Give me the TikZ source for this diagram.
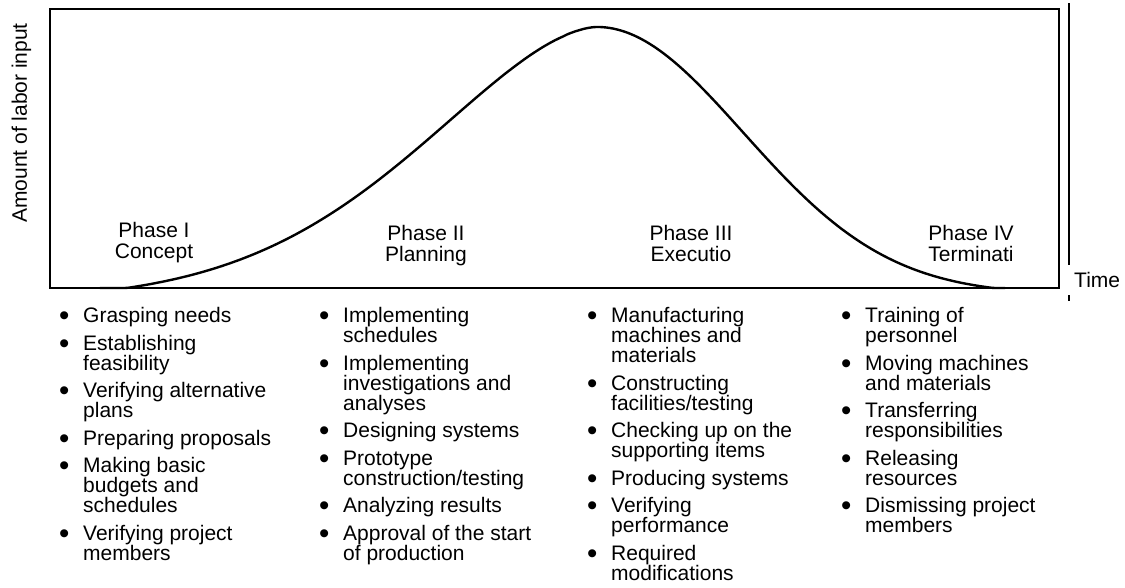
\documentclass[tikz,border=0pt]{standalone}
\usepackage{fontspec}
\setmainfont{Liberation Sans}
\newcommand{\bitem}{\makebox[24pt][l]{\raisebox{-3pt}{\scalebox{1.4}{\textbullet}}}}
\newcommand{\bcont}{\hspace*{24pt}}
\begin{document}
\begin{tikzpicture}[x=1pt,y=-1pt,
  txt/.style={inner sep=0pt, font=\fontsize{21}{20}\selectfont},
  listcol/.style={txt, anchor=base west},
  phase/.style={inner sep=0pt, anchor=base, font=\fontsize{21}{21.5}\selectfont},
  frame/.style={line width=2.5pt, line join=miter},
  curveline/.style={line width=2.4pt, line cap=round, line join=round},
  axisline/.style={line width=1.8pt}]
\useasboundingbox (0,0) rectangle (1125,587);
\fill[white] (0,0) rectangle (1125,587);
% frame
\draw[frame] (50,9) rectangle (1059,288);
% curve (labor input over time)
\draw[curveline]
  plot[domain=100:596.5, samples=120]
    (\x, {288-261*max(exp(0-pow((597-\x)/246.6,1.7))-0.05,0)/0.95})
  -- plot[domain=596.5:1005, samples=120]
    (\x, {288-261*max(exp(0-0.5*pow((\x-597)/146,2))-0.025,0)/0.975});
% right axis
\coordinate (vtop) at (1069,3);
\coordinate (vbot) at (1069,265);
\coordinate (ttop) at (1069,295);
\coordinate (tbot) at (1069,301);
\draw[axisline] (vtop) -- (vbot);
\draw[axisline] (ttop) -- (tbot);
\node[txt, anchor=base west] (time) at (1074,287) {Time};
\node[txt, anchor=base, rotate=90] (ylab) at (27,123) {Amount of labor input};
% phase labels
\node[phase] (p1) at (154,237) {\begin{minipage}[t]{160pt}\centering Phase I\\Concept\end{minipage}};
\node[phase] (p2) at (426,240) {\begin{minipage}[t]{160pt}\centering Phase II\\Planning\end{minipage}};
\node[phase] (p3) at (691,240) {\begin{minipage}[t]{160pt}\centering Phase III\\Executio\end{minipage}};
\node[phase] (p4) at (971,240) {\begin{minipage}[t]{160pt}\centering Phase IV\\Terminati\end{minipage}};
% lists
\node[listcol] (l1) at (59,322.5) {\begin{minipage}[t]{250pt}
\bitem Grasping needs\\[7.5pt]
\bitem Establishing\\ \bcont feasibility\\[7.5pt]
\bitem Verifying alternative\\ \bcont plans\\[7.5pt]
\bitem Preparing proposals\\[7.5pt]
\bitem Making basic\\ \bcont budgets and\\ \bcont schedules\\[7.5pt]
\bitem Verifying project\\ \bcont members
\end{minipage}};
\node[listcol] (l2) at (319,322.5) {\begin{minipage}[t]{250pt}
\bitem Implementing\\ \bcont schedules\\[7.5pt]
\bitem Implementing\\ \bcont investigations and\\ \bcont analyses\\[7.5pt]
\bitem Designing systems\\[7.5pt]
\bitem Prototype\\ \bcont construction/testing\\[7.5pt]
\bitem Analyzing results\\[7.5pt]
\bitem Approval of the start\\ \bcont of production
\end{minipage}};
\node[listcol] (l3) at (587,322.5) {\begin{minipage}[t]{250pt}
\bitem Manufacturing\\ \bcont machines and\\ \bcont materials\\[7.5pt]
\bitem Constructing\\ \bcont facilities/testing\\[7.5pt]
\bitem Checking up on the\\ \bcont supporting items\\[7.5pt]
\bitem Producing systems\\[7.5pt]
\bitem Verifying\\ \bcont performance\\[7.5pt]
\bitem Required\\ \bcont modifications
\end{minipage}};
\node[listcol] (l4) at (841,322.5) {\begin{minipage}[t]{250pt}
\bitem Training of\\ \bcont personnel\\[7.5pt]
\bitem Moving machines\\ \bcont and materials\\[7.5pt]
\bitem Transferring\\ \bcont responsibilities\\[7.5pt]
\bitem Releasing\\ \bcont resources\\[7.5pt]
\bitem Dismissing project\\ \bcont members
\end{minipage}};
\end{tikzpicture}
\end{document}
